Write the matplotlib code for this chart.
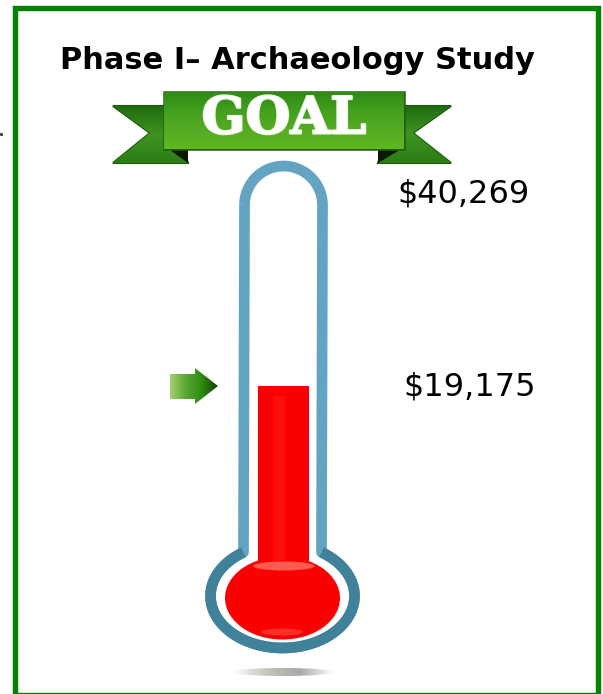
import numpy as np
import matplotlib
matplotlib.use("Agg")
import matplotlib.pyplot as plt
from matplotlib.patches import Ellipse, Polygon, Rectangle, PathPatch
from matplotlib.path import Path
from matplotlib.colors import LinearSegmentedColormap
import matplotlib.patheffects as pe

title = "Phase I\u2013 Archaeology Study"
goal_label = "GOAL"
goal_value = 40269
raised_value = 19175
value_labels = ["$40,269", "$19,175"]

W, H = 603, 694
fig = plt.figure(figsize=(W / 100, H / 100), dpi=100)
ax = fig.add_axes([0, 0, 1, 1])
ax.set_xlim(0, W)
ax.set_ylim(H, 0)
ax.axis("off")


# dollars to pixel rows on the tube
def val_y(v):
    return 564 - 0.00929 * v


def grad(colors, extent, clip=None, horiz=False, z=2):
    cmap = LinearSegmentedColormap.from_list("g", colors)
    arr = np.linspace(0, 1, 128)
    arr = arr.reshape(1, -1) if horiz else arr.reshape(-1, 1)
    im = ax.imshow(arr, cmap=cmap, extent=extent, aspect="auto", zorder=z,
                   interpolation="bilinear")
    if clip is not None:
        im.set_clip_path(clip)
    ax.set_xlim(0, W)
    ax.set_ylim(H, 0)
    return im


# green frame, bottom edge runs off the picture
ax.add_patch(Rectangle((14.5, 7.5), 583, 687, fill=False, ec="#038203", lw=3.9,
                       joinstyle="miter", zorder=1))
ax.plot([1], [134], marker="s", ms=1.2, color="#444444", zorder=1)

ax.text(297, 60, title, family="DejaVu Sans", weight="bold", fontsize=22,
        ha="center", va="center", color="black", zorder=5)

# banner tails
tail_l = [(113, 106), (168, 106), (188, 163), (113, 163), (150, 133)]
tail_r = [(451, 106), (398, 106), (378, 163), (451, 163), (413, 133)]
for pts in (tail_l, tail_r):
    p = Polygon(pts, closed=True, fc="#2f7d14", ec="#1c5a0c", lw=1.5, zorder=2)
    ax.add_patch(p)
    grad(["#1f6a0f", "#3f9420", "#2a7a14"], (105, 460, 165, 105), clip=p, z=2.1)
ax.add_patch(Polygon([(167, 148), (188, 148), (188, 163)], fc="#0a1a05", zorder=2.2))
ax.add_patch(Polygon([(378, 148), (403, 148), (378, 163)], fc="#0a1a05", zorder=2.2))

# banner body
body = Rectangle((164, 92), 240, 57, fc="#3f9a1c", ec="#245f10", lw=1.8, zorder=3)
ax.add_patch(body)
grad(["#2f8a16", "#43a01e", "#56ab24", "#5fb81c"], (164, 404, 149, 92), clip=body, z=3.1)
ax.text(284, 120, goal_label, family="DejaVu Serif", weight="bold", fontsize=37,
        ha="center", va="center", color="white", zorder=4,
        path_effects=[pe.withStroke(linewidth=1.5, foreground="#eef7e0")])

# thermometer outline
cx = 283.5
hw = 39
top = 205
t = np.linspace(np.pi, 2 * np.pi, 60)
xs = list(cx + hw * np.cos(t))
ys = list(top + hw * np.sin(t))
ecx, ecy, rx, ry = 282.5, 596, 72, 52
start = np.arcsin(hw / rx)
t2 = np.linspace(-np.pi / 2 + start, 3 * np.pi / 2 - start, 140)
xs += list(ecx + rx * np.cos(t2))
ys += list(ecy + ry * np.sin(t2))
verts = np.column_stack([xs, ys])
verts = np.vstack([verts, verts[0]])
outline = Path(verts)
ax.add_patch(PathPatch(outline, fc="white", ec="none", zorder=2))
ax.add_patch(PathPatch(outline, fc="none", ec="#62a4c2", lw=7.7, joinstyle="round", zorder=3))
ax.add_patch(PathPatch(Path(verts[60:-1]), fc="none", ec="#3f8299", lw=7.7, zorder=3.1))

# mercury
ax.bar(283.5, raised_value * 0.00929 + 12, bottom=val_y(raised_value), width=51,
       align="center", color="#fb0000", zorder=4)
ax.add_patch(Ellipse((282.5, 598), 115, 83, fc="#fb0000", ec="none", zorder=4))
ax.add_patch(Ellipse((284, 566), 62, 9, fc="#ff7a6a", ec="none", alpha=0.75, zorder=4.1))
ax.add_patch(Ellipse((282, 632), 42, 7, fc="#ff5040", ec="none", alpha=0.6, zorder=4.1))
ax.add_patch(Rectangle((273, val_y(raised_value) + 10), 12, 165, fc="#ff3a2a", ec="none",
                       alpha=0.25, zorder=4.1))

# shadow below bulb
shadow = Ellipse((283, 672), 102, 8, fc="none", ec="none", zorder=2)
ax.add_patch(shadow)
grad(["#ffffff", "#c4c4bc", "#a8a8a8", "#ffffff"], (232, 334, 676, 668), clip=shadow, horiz=True)

# pointer arrow
arrow = Polygon([(170, 374), (195, 374), (195, 368), (218, 386), (195, 404), (195, 399), (170, 399)],
                closed=True, fc="none", ec="none", zorder=3)
ax.add_patch(arrow)
grad(["#a6cf70", "#58a832", "#2f8a10", "#123f08"], (170, 218, 404, 368), clip=arrow, horiz=True, z=3)

# value labels
ax.text(464, 194, value_labels[0], family="DejaVu Sans", fontsize=23, ha="center", va="center",
        color="black", zorder=5)
ax.text(470, 387, value_labels[1], family="DejaVu Sans", fontsize=23, ha="center", va="center",
        color="black", zorder=5)

fig.savefig("out.png", dpi=100, facecolor="white")
